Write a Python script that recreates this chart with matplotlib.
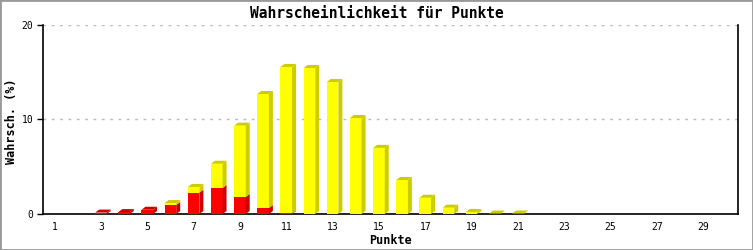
import matplotlib
matplotlib.use('Agg')
import matplotlib.pyplot as plt
from matplotlib.patches import Polygon, Rectangle

# ---- data ----
punkte = list(range(1, 31))
rot = [0, 0, 0.15, 0.2, 0.45, 0.95, 2.26, 2.75, 1.8, 0.63, 0.07] + [0] * 19
gelb = [0, 0, 0, 0, 0, 0.21, 0.6, 2.57, 7.55, 12.07, 15.49, 15.45, 13.97,
        10.16, 7.0, 3.6, 1.72, 0.67, 0.22, 0.05, 0.05] + [0] * 9
xtick_labels = [str(v) for v in range(1, 30, 2)]
yticks = [0, 10, 20]

W, H = 753, 250
fig = plt.figure(figsize=(W / 100, H / 100), dpi=100)
fig.patch.set_facecolor('white')
fig.add_artist(Rectangle((0, 0), 1, 1, transform=fig.transFigure, fill=False,
                         edgecolor='#999999', linewidth=2.0))

ax_l, ax_r, ax_t, ax_b = 43, 738, 25, 214
ax = fig.add_axes([ax_l / W, 1 - ax_b / H, (ax_r - ax_l) / W, (ax_b - ax_t) / H])
ax.set_xlim(0.5, 30.5)
ax.set_ylim(0, 20)

# pixel -> data offsets for the 3D depth
dx = 4 * 30 / (ax_r - ax_l)
dy = 3 * 20 / (ax_b - ax_t)
bw = 0.5

def block(x, y0, h, face, dark, top):
    x0, x1 = x - bw / 2, x + bw / 2
    y1 = y0 + h
    ax.add_patch(Rectangle((x0, y0), bw, h, facecolor=face, edgecolor='none', zorder=3))
    ax.add_patch(Polygon([(x1, y0), (x1, y1), (x1 + dx, y1 + dy), (x1 + dx, y0 + dy)],
                         closed=True, facecolor=dark, edgecolor='none', zorder=3))
    if top:
        ax.add_patch(Polygon([(x0, y1), (x1, y1), (x1 + dx, y1 + dy), (x0 + dx, y1 + dy)],
                             closed=True, facecolor=dark, edgecolor='none', zorder=3))

for x, r, g in zip(punkte, rot, gelb):
    if r > 0:
        block(x, 0, r, '#FF0000', '#CC0000', top=(g == 0))
    if g > 0:
        block(x, r, g, '#FFFF00', '#CCCC00', top=True)

mono = 'DejaVu Sans Mono'
ax.set_xticks(list(range(1, 30, 2)))
ax.set_xticklabels(xtick_labels, fontfamily=mono, fontsize=7)
ax.set_yticks(yticks)
ax.set_yticklabels([str(v) for v in yticks], fontfamily=mono, fontsize=7)
ax.tick_params(axis='x', length=0, pad=6)
ax.tick_params(axis='y', length=4, width=1, pad=3)
ax.spines['top'].set_visible(False)
for s in ['left', 'bottom', 'right']:
    ax.spines[s].set_linewidth(1.2)
ax.yaxis.grid(True, linestyle=(0, (2, 4)), color='#BBBBBB', linewidth=1)
ax.set_axisbelow(True)

fig.text(0.5, 1 - 13 / H, 'Wahrscheinlichkeit für Punkte', ha='center', va='center',
         fontfamily=mono, fontweight='bold', fontsize=10.5)
fig.text(12 / W, 1 - 121 / H, 'Wahrsch. (%)', ha='center', va='center', rotation=90,
         fontfamily=mono, fontweight='bold', fontsize=8.5)
fig.text((ax_l + ax_r) / 2 / W, 1 - 240 / H, 'Punkte', ha='center', va='center',
         fontfamily=mono, fontweight='bold', fontsize=8.5)

fig.savefig('out.png', dpi=100)
